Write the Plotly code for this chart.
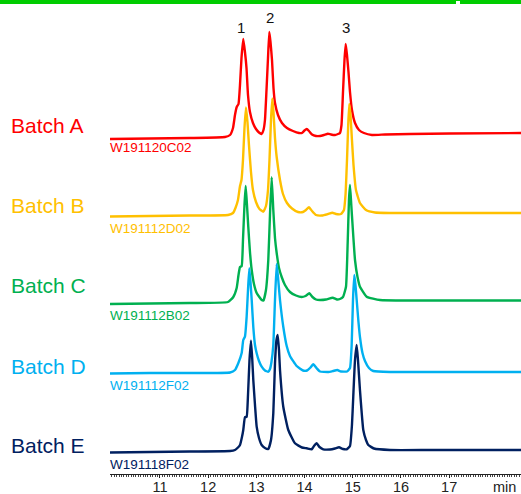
import plotly.graph_objects as go

# ---------------- data (time in min, signal in arbitrary detector units) ----------------
batches = ["Batch A", "Batch B", "Batch C", "Batch D", "Batch E"]
sample_ids = ["W191120C02", "W191112D02", "W191112B02", "W191112F02", "W191118F02"]
colors = ["#FF0000", "#FFC000", "#00B050", "#00B0F0", "#002060"]
offsets = [335, 257.5, 170, 100.5, 21.5]   # vertical stacking of chromatograms
peak_labels = ["1", "2", "3"]
peak_label_times = [12.69, 13.28, 14.85]
tick_vals = [11, 12, 13, 14, 15, 16, 17]

t_A = [9.963, 10.793, 11.622, 12.349, 12.453, 12.515, 12.556, 12.592, 12.629, 12.660, 12.691, 12.728,
       12.763, 12.795, 12.826, 12.867, 12.929, 12.992, 13.054, 13.106, 13.147, 13.178, 13.210, 13.241,
       13.268, 13.293, 13.324, 13.355, 13.386, 13.448, 13.531, 13.635, 13.759, 13.884, 13.946, 13.998,
       14.044, 14.091, 14.154, 14.237, 14.320, 14.402, 14.485, 14.548, 14.631, 14.693, 14.734, 14.766,
       14.797, 14.828, 14.853, 14.880, 14.911, 14.942, 14.983, 15.046, 15.129, 15.232, 15.398, 15.668,
       16.187, 17.017, 18.49]
s_A = [0, 0.5, 1, 2, 4, 11, 24, 32, 35, 54, 81, 100,
       87, 71, 44, 27, 16, 10, 6.5, 5, 9, 19, 49, 81,
       107, 97, 79, 51, 36, 24, 16, 11, 8, 6, 6, 8.5,
       10, 8, 4.5, 3, 3, 4, 5.3, 4.5, 4, 5, 6, 14,
       47, 79, 95, 84, 67, 47, 29, 16, 9, 6, 4, 4.5,
       5, 5.5, 6]

t_B = [9.963, 10.793, 11.622, 12.411, 12.515, 12.566, 12.618, 12.660, 12.691, 12.722, 12.753, 12.784,
       12.815, 12.846, 12.888, 12.929, 12.992, 13.064, 13.143, 13.199, 13.241, 13.272, 13.303, 13.330,
       13.355, 13.386, 13.421, 13.490, 13.552, 13.635, 13.739, 13.863, 13.967, 14.029, 14.091, 14.154,
       14.237, 14.361, 14.485, 14.575, 14.651, 14.755, 14.817, 14.849, 14.880, 14.905, 14.927, 14.952,
       14.983, 15.015, 15.066, 15.149, 15.274, 15.461, 15.772, 16.187, 17.017, 18.49]
s_B = [0, 0.5, 1, 1.5, 3.5, 8.5, 16.5, 30.5, 36.5, 56.5, 88.5, 109,
       94.5, 71.5, 44.5, 26.5, 14.5, 7.5, 4.8, 10.5, 26.5, 56.5, 96.5, 118,
       104.5, 78.5, 59.5, 36.5, 22.5, 13.5, 8, 4.5, 4.5, 6.5, 9.2, 5.5,
       1.5, 1, 2.5, 3.8, 2.5, 2.5, 6.5, 21.5, 56.5, 91.5, 112.5, 101.5,
       76.5, 51.5, 26.5, 13.5, 6.5, 4, 3.5, 3.5, 3.5, 3.5]

t_C = [9.963, 10.793, 11.622, 12.411, 12.521, 12.591, 12.629, 12.660, 12.695, 12.722, 12.753, 12.778,
       12.805, 12.832, 12.867, 12.903, 12.950, 13.006, 13.110, 13.147, 13.199, 13.247, 13.282, 13.317,
       13.351, 13.386, 13.421, 13.469, 13.525, 13.593, 13.697, 13.822, 13.940, 14.019, 14.098, 14.164,
       14.237, 14.320, 14.444, 14.583, 14.672, 14.734, 14.797, 14.859, 14.894, 14.921, 14.942, 14.969,
       14.998, 15.046, 15.098, 15.149, 15.288, 15.564, 16.187, 17.017, 18.49]
s_C = [0, 0.5, 1, 2, 7, 16, 29, 37, 38, 64, 99, 118,
       99, 77, 52, 34, 20, 11, 4, 3.5, 14, 44, 89, 126.7,
       94, 66, 51, 36, 27, 19, 12, 8.5, 7, 8, 10.7, 7,
       4.5, 4, 4.5, 6.3, 4.5, 5, 7, 17.3, 61, 104, 119, 99,
       77, 44, 27, 17.3, 7.3, 4, 3.5, 3.5, 3.5]

t_D = [9.963, 10.793, 11.622, 12.453, 12.556, 12.624, 12.695, 12.728, 12.763, 12.798, 12.826, 12.853,
       12.878, 12.903, 12.936, 12.971, 13.006, 13.054, 13.110, 13.178, 13.247, 13.282, 13.313, 13.351,
       13.386, 13.421, 13.454, 13.490, 13.558, 13.629, 13.697, 13.836, 13.967, 14.050, 14.112, 14.180,
       14.247, 14.320, 14.485, 14.589, 14.678, 14.755, 14.880, 14.942, 14.977, 15.004, 15.031, 15.056,
       15.081, 15.118, 15.149, 15.201, 15.253, 15.336, 15.425, 15.772, 16.602, 18.49]
s_D = [0, 0.5, 0.5, 1, 3.5, 10.2, 20.5, 33.5, 36.8, 56.8, 83.5, 105.2,
       91.5, 73.5, 46.5, 28.5, 20.2, 12.5, 6.8, 3, 1.8, 4.5, 11.5, 28.5,
       73.5, 109.5, 93.5, 73.5, 46.8, 27.5, 17.5, 7.5, 3, 3, 5.5, 9.2,
       5.5, 2, 1.5, 2.5, 3.5, 2, 2, 5.5, 28.5, 73.5, 98.5, 88.5,
       73.5, 51.5, 36.5, 20.5, 12.5, 5.5, 2.5, 1.5, 1.5, 1.5]

t_E = [9.963, 10.793, 11.622, 12.453, 12.556, 12.618, 12.660, 12.701, 12.728, 12.763, 12.798, 12.826,
       12.857, 12.888, 12.913, 12.936, 12.971, 13.006, 13.054, 13.110, 13.178, 13.247, 13.303, 13.351,
       13.386, 13.417, 13.442, 13.469, 13.490, 13.558, 13.662, 13.801, 13.946, 14.044, 14.147, 14.195,
       14.251, 14.309, 14.388, 14.527, 14.631, 14.714, 14.797, 14.873, 14.942, 14.983, 15.010, 15.046,
       15.081, 15.108, 15.149, 15.218, 15.274, 15.322, 15.440, 15.772, 16.602, 18.49]
s_E = [0, 0.5, 1, 1.5, 2.5, 5, 7.5, 15.5, 22.5, 35.2, 35.8, 57.5,
       92.5, 111.8, 94.5, 72.5, 47.5, 25.8, 14.5, 7.5, 4.5, 3.5, 12.5, 39.2,
       89.2, 112.5, 117.5, 102.5, 82.5, 45.8, 22.5, 9.2, 5, 4.2, 3.2, 6.5,
       9.2, 5.5, 3.2, 3, 4, 5.2, 3.5, 3.2, 6.5, 27.5, 55.8, 92.5,
       107.5, 92.5, 62.5, 22.5, 12.5, 7.5, 4, 2.5, 2.5, 2.5]

times = [t_A, t_B, t_C, t_D, t_E]
signals = [s_A, s_B, s_C, s_D, s_E]

# ---------------- figure ----------------
W, H = 521, 494
ML, MR, MT, MB = 110, 0, 0, 20
PW, PH = W - ML - MR, H - MT - MB
XR = [9.963, 18.49]
YR = [0, PH]

def px(x):
    return (x - ML) / PW

def py(y):
    return (H - MB - y) / PH

fig = go.Figure()
for name, t, s, off, c in zip(batches, times, signals, offsets, colors):
    fig.add_trace(go.Scatter(
        x=t, y=[v + off for v in s], mode="lines", name=name,
        line=dict(color=c, width=2.4, shape="spline", smoothing=0.4), hoverinfo="skip"))

FONT = "Liberation Sans, Arial, sans-serif"
ann = []
label_y = [126, 205, 285, 366, 445]
id_y = [148, 228, 315, 385, 464]
for name, sid, c, ly, iy in zip(batches, sample_ids, colors, label_y, id_y):
    ann.append(dict(text=name, x=px(9), y=py(ly), xref="paper", yref="paper",
                    xanchor="left", yanchor="middle", showarrow=False,
                    font=dict(size=21, color=c, family=FONT)))
    ann.append(dict(text=sid, x=px(108), y=py(iy), xref="paper", yref="paper",
                    xanchor="left", yanchor="middle", showarrow=False,
                    font=dict(size=13.5, color=c, family=FONT)))

peak_label_y = [28, 18, 28]
for lab, tt, ly in zip(peak_labels, peak_label_times, peak_label_y):
    ann.append(dict(text=lab, x=tt, y=py(ly), xref="x", yref="paper",
                    xanchor="center", yanchor="middle", showarrow=False,
                    font=dict(size=15, color="#111111", family=FONT)))

ann.append(dict(text="min", x=px(504), y=py(487), xref="paper", yref="paper",
                xanchor="center", yanchor="middle", showarrow=False,
                font=dict(size=14.5, color="#222222", family=FONT)))

shapes = [
    dict(type="rect", xref="paper", yref="paper", x0=px(0), x1=px(W), y0=py(4), y1=py(0),
         fillcolor="#00CC00", line=dict(width=0), layer="above"),
    dict(type="rect", xref="paper", yref="paper", x0=px(456), x1=px(460), y0=py(4), y1=py(1),
         fillcolor="#FFFFFF", line=dict(width=0), layer="above"),
]

fig.update_layout(
    width=W, height=H,
    margin=dict(l=ML, r=MR, t=MT, b=MB, pad=0),
    paper_bgcolor="white", plot_bgcolor="white",
    showlegend=False,
    annotations=ann, shapes=shapes,
    xaxis=dict(range=XR, showgrid=False, zeroline=False, showline=True,
               linecolor="#222222", linewidth=1, ticks="outside", ticklen=3,
               tickcolor="#222222", tickwidth=1, tickvals=tick_vals,
               ticklabelstandoff=-3,
               tickfont=dict(size=14.5, color="#222222", family=FONT),
               minor=dict(dtick=0.05, ticks="outside", ticklen=2, tickcolor="#444444", tickwidth=1),
               automargin=False, fixedrange=True),
    yaxis=dict(range=YR, visible=False, fixedrange=True, automargin=False),
)

fig.write_html("out.html", config=dict(displayModeBar=False),
               post_script="document.body.style.margin='0';document.body.style.overflow='hidden';")
